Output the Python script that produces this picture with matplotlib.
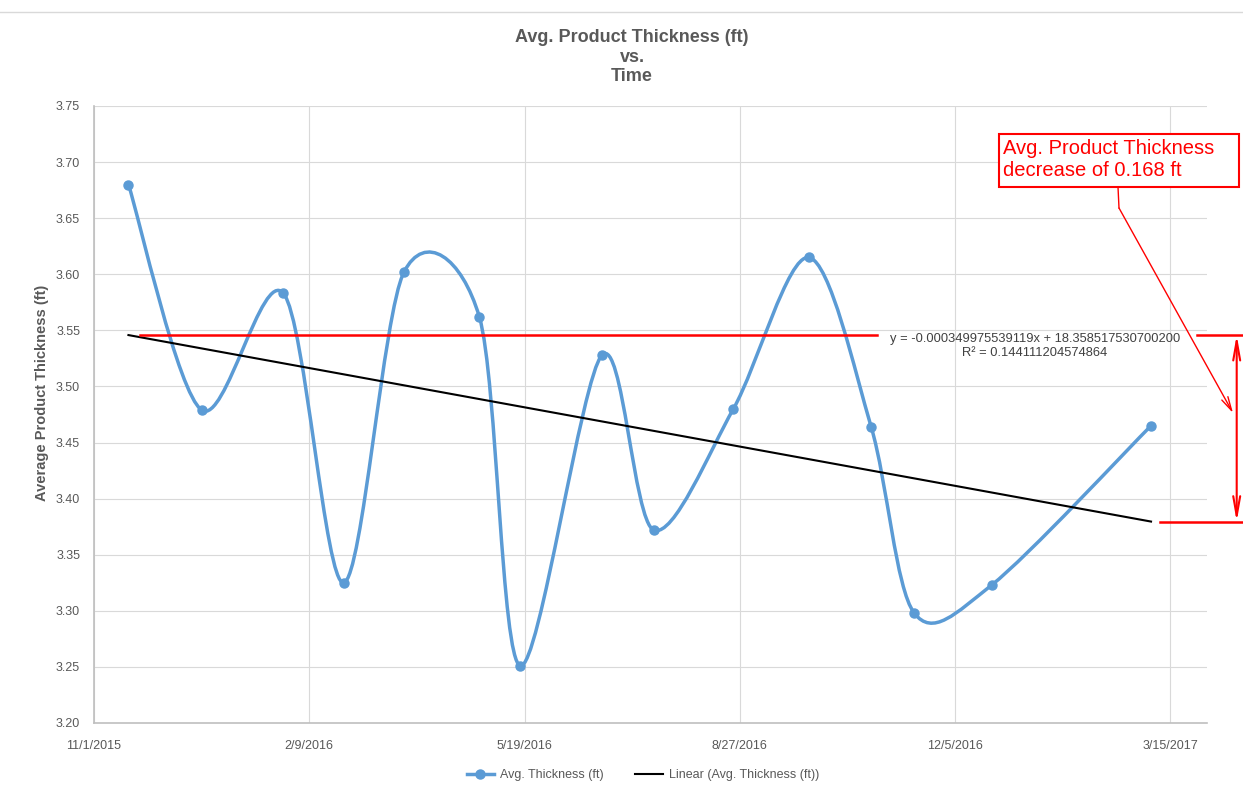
import datetime as dt
import numpy as np
import matplotlib
matplotlib.use("Agg")
import matplotlib.pyplot as plt
import matplotlib.dates as mdates
import matplotlib.transforms as transforms
from matplotlib.path import Path
from matplotlib.patches import PathPatch, Rectangle
from matplotlib.lines import Line2D
from matplotlib.ticker import FixedLocator, FuncFormatter

plt.rcParams['font.family'] = ['Liberation Sans', 'DejaVu Sans']

# values
sample_dates = ["2015-11-17", "2015-12-21", "2016-01-28", "2016-02-25", "2016-03-24",
                "2016-04-28", "2016-05-17", "2016-06-24", "2016-07-18", "2016-08-24",
                "2016-09-28", "2016-10-27", "2016-11-16", "2016-12-22", "2017-03-06"]
avg_thickness = [3.680, 3.479, 3.583, 3.325, 3.602,
                 3.562, 3.251, 3.528, 3.372, 3.480,
                 3.615, 3.464, 3.298, 3.323, 3.465]

# excel linear trendline (x = excel serial date)
trend_slope = -0.000349975539119
trend_intercept = 18.3585175307002
trend_label = "y = -0.000349975539119x + 18.358517530700200\nR\u00b2 = 0.144111204574864"

x_tick_dates = ["2015-11-01", "2016-02-09", "2016-05-19", "2016-08-27", "2016-12-05", "2017-03-15"]
y_ticks = [3.20, 3.25, 3.30, 3.35, 3.40, 3.45, 3.50, 3.55, 3.60, 3.65, 3.70, 3.75]

BLUE = "#5B9BD5"
GREY = "#595959"
RED = "#FF0000"

W, H = 1243, 794
fig = plt.figure(figsize=(W / 100, H / 100), dpi=100)
ax = fig.add_axes([94 / W, 1 - 723 / H, (1207 - 94) / W, (723 - 106) / H])


def fx(px):
    return px / W


def fy(py):
    return 1 - py / H


def axfrac(px):
    return (px - 94) / (1207 - 94)


def to_num(s):
    return mdates.date2num(dt.datetime.strptime(s, "%Y-%m-%d"))


xs = np.array([to_num(d) for d in sample_dates])
ys = np.array(avg_thickness)

# smoothed line, excel style (catmull-rom bezier through the points)
pts = np.column_stack([xs, ys])
n = len(pts)
verts = [pts[0]]
codes = [Path.MOVETO]
for i in range(n - 1):
    p_prev = pts[max(i - 1, 0)]
    p_next2 = pts[min(i + 2, n - 1)]
    c1 = pts[i] + (pts[i + 1] - p_prev) / 6.5
    c2 = pts[i + 1] - (p_next2 - pts[i]) / 6.5
    verts += [c1, c2, pts[i + 1]]
    codes += [Path.CURVE4] * 3
ax.add_patch(PathPatch(Path(verts, codes), fill=False, edgecolor=BLUE, lw=2.5,
                       capstyle='round', joinstyle='round', zorder=3))
ax.plot(xs, ys, 'o', color=BLUE, ms=6.5, zorder=5)

# trendline
excel_epoch = mdates.date2num(dt.datetime(1899, 12, 30))
trend_x = np.array([xs[0], xs[-1]])
trend_y = trend_slope * (trend_x - excel_epoch) + trend_intercept
ax.plot(trend_x, trend_y, color='black', lw=1.5, zorder=4)

# axes
ax.set_xlim(to_num("2015-11-01"), to_num("2015-11-01") + 517)
ax.set_ylim(3.20, 3.75)
ax.xaxis.set_major_locator(FixedLocator([to_num(d) for d in x_tick_dates]))
ax.xaxis.set_major_formatter(FuncFormatter(
    lambda v, p: "{}/{}/{}".format(mdates.num2date(v).month, mdates.num2date(v).day, mdates.num2date(v).year)))
ax.yaxis.set_major_locator(FixedLocator(y_ticks))
ax.yaxis.set_major_formatter(FuncFormatter(lambda v, p: "%.2f" % v))
ax.grid(color="#D9D9D9", lw=0.8)
ax.set_axisbelow(True)
for side in ["top", "right"]:
    ax.spines[side].set_visible(False)
for side in ["left", "bottom"]:
    ax.spines[side].set_color("#BFBFBF")
    ax.spines[side].set_linewidth(1.2)
ax.tick_params(axis='both', length=0, labelsize=9, colors=GREY)
ax.tick_params(axis='x', pad=12)
ax.tick_params(axis='y', pad=10)

ax.set_ylabel("Average Product Thickness (ft)", fontsize=10.5, fontweight='bold', color=GREY)
ax.yaxis.set_label_coords(-0.040, 0.535)

fig.text(fx(632), fy(57), "Avg. Product Thickness (ft)\nvs.\nTime", ha='center', va='center',
         fontsize=13, fontweight='bold', color=GREY, linespacing=1.2)

# chart frame top line
fig.add_artist(Line2D([0, 1], [fy(12), fy(12)], color="#D9D9D9", lw=1))

# trendline equation
fig.text(fx(1035), fy(346), trend_label, ha='center', va='center', fontsize=9.3,
         color="#404040", linespacing=1.3, zorder=6)

# red annotations
trans = transforms.blended_transform_factory(ax.transAxes, ax.transData)
ax.plot([axfrac(140), axfrac(877)], [trend_y[0]] * 2, color=RED, lw=1.8, transform=trans,
        clip_on=False, zorder=4)
ax.plot([axfrac(1197), axfrac(1243)], [trend_y[0]] * 2, color=RED, lw=1.8, transform=trans,
        clip_on=False)
ax.plot([axfrac(1160), axfrac(1243)], [trend_y[1]] * 2, color=RED, lw=1.8, transform=trans,
        clip_on=False)
ax.annotate("", xy=(axfrac(1236.7), trend_y[1]), xytext=(axfrac(1236.7), trend_y[0]),
            xycoords=trans, textcoords=trans, annotation_clip=False,
            arrowprops=dict(arrowstyle='<->,head_length=1.4,head_width=0.25', color=RED,
                            lw=1.5, shrinkA=0, shrinkB=0))

fig.add_artist(Rectangle((fx(999), fy(187)), fx(1239) - fx(999), fy(134) - fy(187),
                         transform=fig.transFigure, facecolor='white', edgecolor=RED, lw=1.5))
fig.text(fx(1003), fy(160), "Avg. Product Thickness\ndecrease of 0.168 ft", ha='left', va='center',
         fontsize=14.5, color=RED, linespacing=1.2)
fig.add_artist(Line2D([fx(1118), fx(1119)], [fy(187), fy(208)], color=RED, lw=1))
ax.annotate("", xy=(fx(1233), fy(413)), xytext=(fx(1119), fy(208)),
            xycoords='figure fraction', textcoords='figure fraction', annotation_clip=False,
            arrowprops=dict(arrowstyle='->,head_length=1.0,head_width=0.25', color=RED,
                            lw=1, shrinkA=0, shrinkB=0))

# legend
handles = [Line2D([], [], color=BLUE, lw=2.5, marker='o', ms=6.5),
           Line2D([], [], color='black', lw=1.5)]
fig.legend(handles, ["Avg. Thickness (ft)", "Linear (Avg. Thickness (ft))"], loc='center',
           bbox_to_anchor=(fx(643), fy(775)), ncol=2, frameon=False, fontsize=9,
           labelcolor=GREY, handlelength=2.2, columnspacing=2.5, handletextpad=0.5)

fig.savefig("out.png", dpi=100)
